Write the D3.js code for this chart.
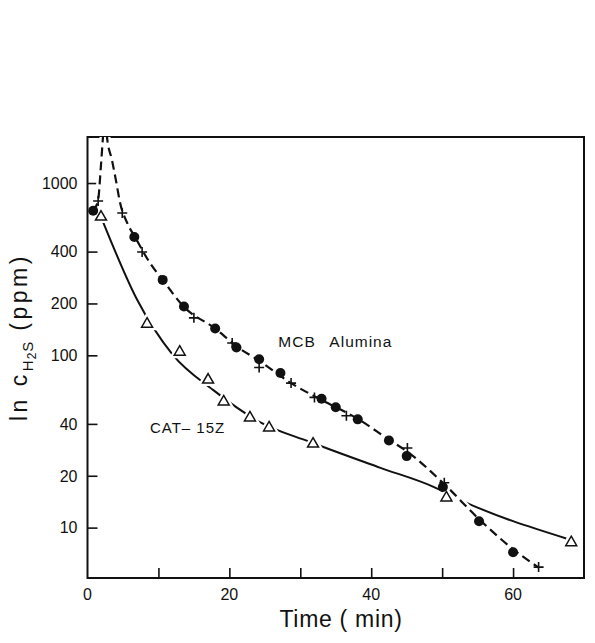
<!DOCTYPE html>
<html>
<head>
<meta charset="utf-8">
<script src="https://cdn.jsdelivr.net/npm/d3@7"></script>
<style>
  body { margin: 0; background: #fff; }
  svg text { font-family: "Liberation Sans", Arial, sans-serif; fill: #111; }
</style>
</head>
<body>
<svg id="chart"></svg>
<script>
var viewWidth = 595;
var viewHeight = 643;

var margin = {top: 137, right: 11, bottom: 65, left: 87.5};
var width = viewWidth - margin.left - margin.right;
var height = viewHeight - margin.top - margin.bottom;

var mcbDotsT = [0.8, 6.6, 10.6, 13.6, 18.0, 21.0, 24.2, 27.2, 33.0, 35.0, 38.1, 42.5, 45.0, 50.1, 55.2, 60.0];
var mcbDotsC = [690, 486, 274, 192, 143, 111, 95, 79, 56, 50, 42.5, 32, 26, 17.2, 10.9, 7.2];

var mcbPlusT = [1.5, 4.9, 7.7, 15.0, 20.4, 24.2, 28.7, 32.0, 36.5, 45.1, 50.3, 63.6];
var mcbPlusC = [787, 670, 398, 165, 118, 85, 69, 57, 44.6, 29, 18.2, 5.9];

var catT = [1.9, 8.4, 13.0, 17.0, 19.2, 22.9, 25.6, 31.8, 50.6, 68.2];
var catC = [644, 154, 106, 73, 54.5, 44, 38.5, 31, 15.1, 8.3];

// fitted curves as drawn in the figure
var mcbFitT = [0.77, 1.48, 1.9, 2.18, 2.46, 2.75, 3.45, 4.0, 4.6, 5.6, 6.7, 8.8, 10.6, 13.6, 18.0, 21.1, 24.2, 28.7, 33.0, 38.1, 42.5, 45.1, 50.4, 55.3, 59.9, 63.6];
var mcbFitC = [689, 787, 1271, 1848, 2650, 1848, 1360, 1041, 766, 586, 486, 344, 274, 191, 143, 112, 93, 69, 55, 42.8, 32.4, 27.6, 17.7, 11.1, 7.55, 5.86];

var catFitT = [2.2, 7.0, 12.0, 17.7, 24.3, 31.3, 41.2, 48.7, 52.5, 67.5];
var catFitC = [594, 210, 101, 63, 41, 31.5, 22.3, 17.3, 14.5, 8.65];

var xTicks = [0, 10, 20, 30, 40, 50, 60, 70];
var xLabels = [0, 20, 40, 60];
var yTicks = [10, 20, 40, 100, 200, 400, 1000];

function zip(a, b) {
  return a.map(function(d, i) { return {t: d, c: b[i]}; });
}

var svg = d3.select("#chart")
    .attr("width", viewWidth)
    .attr("height", viewHeight);

var g = svg.append("g")
    .attr("transform", "translate(" + margin.left + "," + margin.top + ")");

var x = d3.scaleLinear().domain([0, 70]).range([0, width]);
var y = d3.scaleLog().domain([5.1, 1850]).range([height, 0]);

g.append("clipPath").attr("id", "clip")
  .append("rect").attr("width", width).attr("height", height);

// axes: ticks point inward
var xAxis = d3.axisTop(x).tickValues(xTicks.slice(1, -1)).tickSize(10).tickFormat("");
g.append("g")
    .attr("transform", "translate(0," + height + ")")
    .call(xAxis)
    .call(function(s) { s.select(".domain").remove(); })
    .selectAll("line").attr("stroke", "#111").attr("stroke-width", 1.6);

g.selectAll(".xlab")
  .data(xLabels)
  .enter().append("text")
    .attr("class", "xlab")
    .attr("x", function(d) { return x(d); })
    .attr("y", height + 22)
    .attr("text-anchor", "middle")
    .style("font-size", "16px")
    .text(function(d) { return d; });

var yAxis = d3.axisRight(y).tickValues(yTicks).tickSize(10).tickFormat("");
g.append("g")
    .call(yAxis)
    .call(function(s) { s.select(".domain").remove(); })
    .selectAll("line").attr("stroke", "#111").attr("stroke-width", 1.6);

g.selectAll(".ylab")
  .data(yTicks)
  .enter().append("text")
    .attr("class", "ylab")
    .attr("x", -10)
    .attr("y", function(d) { return y(d); })
    .attr("dy", "0.36em")
    .attr("text-anchor", "end")
    .style("font-size", "16px")
    .text(function(d) { return d; });

// frame
g.append("rect")
    .attr("width", width)
    .attr("height", height)
    .attr("fill", "none")
    .attr("stroke", "#111")
    .attr("stroke-width", 2);

var line = d3.line()
    .x(function(d) { return x(d.t); })
    .y(function(d) { return y(d.c); })
    .curve(d3.curveMonotoneX);

var curves = g.append("g").attr("clip-path", "url(#clip)");

curves.append("path")
    .datum(zip(catFitT, catFitC))
    .attr("d", line)
    .attr("fill", "none")
    .attr("stroke", "#111")
    .attr("stroke-width", 2);

// white gap where the dashed curve crosses the solid one
curves.append("path")
    .datum(zip(mcbFitT, mcbFitC))
    .attr("d", line)
    .attr("fill", "none")
    .attr("stroke", "#fff")
    .attr("stroke-width", 7);

curves.append("path")
    .datum(zip(mcbFitT, mcbFitC))
    .attr("d", line)
    .attr("fill", "none")
    .attr("stroke", "#111")
    .attr("stroke-width", 2.2)
    .attr("stroke-dasharray", "9,5");

// triangles, with a white halo so the solid line breaks around them
var tri = d3.symbol().type(d3.symbolTriangle).size(52);
var tris = g.selectAll(".tri")
  .data(zip(catT, catC))
  .enter().append("g")
    .attr("class", "tri")
    .attr("transform", function(d) { return "translate(" + x(d.t) + "," + (y(d.c) + 1) + ")"; });
tris.append("path")
    .attr("d", tri)
    .attr("fill", "#fff")
    .attr("stroke", "#fff")
    .attr("stroke-width", 6);
tris.append("path")
    .attr("d", tri)
    .attr("fill", "#fff")
    .attr("stroke", "#111")
    .attr("stroke-width", 1.5);

// plus markers
g.selectAll(".plus")
  .data(zip(mcbPlusT, mcbPlusC))
  .enter().append("path")
    .attr("class", "plus")
    .attr("d", "M-5,0H5M0,-5V5")
    .attr("transform", function(d) { return "translate(" + x(d.t) + "," + y(d.c) + ")"; })
    .attr("stroke", "#111")
    .attr("stroke-width", 1.6);

// filled dots
g.selectAll(".dot")
  .data(zip(mcbDotsT, mcbDotsC))
  .enter().append("circle")
    .attr("class", "dot")
    .attr("r", 5)
    .attr("cx", function(d) { return x(d.t); })
    .attr("cy", function(d) { return y(d.c); })
    .attr("fill", "#111");

// curve labels
var mcbLab = g.append("text")
    .attr("y", y(112))
    .style("font-size", "15.5px")
    .attr("letter-spacing", "1px");
mcbLab.append("tspan").attr("x", x(26.9)).text("MCB");
mcbLab.append("tspan").attr("x", x(34.1)).text("Alumina");

g.append("text")
    .attr("x", x(8.8))
    .attr("y", y(35.6))
    .style("font-size", "15px")
    .attr("letter-spacing", "1px")
    .attr("xml:space", "preserve")
    .text("CAT\u2013 15Z");

// axis titles
svg.append("text")
    .attr("x", 341)
    .attr("y", 627)
    .attr("text-anchor", "middle")
    .style("font-size", "23px")
    .attr("letter-spacing", "0.7px")
    .attr("xml:space", "preserve")
    .text("Time ( min)");

var yt = svg.append("text")
    .attr("transform", "translate(27,421) rotate(-90)")
    .style("font-size", "23px")
    .attr("letter-spacing", "3.5px")
    .attr("xml:space", "preserve");
yt.append("tspan").text("ln c");
yt.append("tspan").attr("dy", 6).style("font-size", "15px").attr("letter-spacing", "1px").text("H");
yt.append("tspan").attr("dy", 3).style("font-size", "12px").attr("letter-spacing", "1px").text("2");
yt.append("tspan").attr("dy", -3).style("font-size", "15px").attr("letter-spacing", "1px").text("S");
yt.append("tspan").attr("dy", -6).text(" (ppm)");
</script>
</body>
</html>
